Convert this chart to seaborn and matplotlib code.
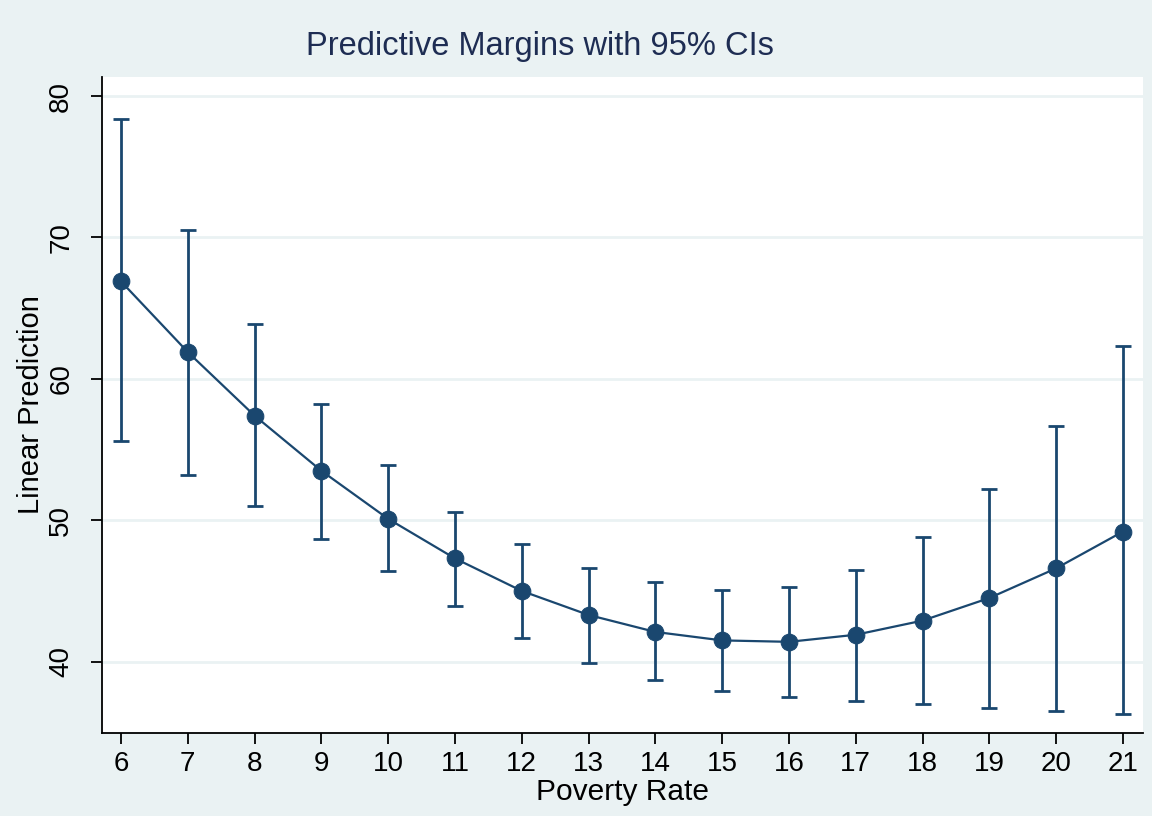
import numpy as np
import pandas as pd
import matplotlib
matplotlib.use("Agg")
import matplotlib.pyplot as plt
import seaborn as sns

# Values
poverty_rate = [6, 7, 8, 9, 10, 11, 12, 13, 14, 15, 16, 17, 18, 19, 20, 21]
margin = [66.9, 61.9, 57.4, 53.5, 50.1, 47.3, 45.0, 43.3, 42.1, 41.5, 41.4, 41.9, 42.9, 44.5, 46.6, 49.2]
ci_upper = [78.4, 70.5, 63.9, 58.2, 53.9, 50.6, 48.3, 46.6, 45.6, 45.1, 45.3, 46.5, 48.8, 52.2, 56.7, 62.3]
ci_lower = [55.6, 53.2, 51.0, 48.7, 46.4, 43.9, 41.7, 39.9, 38.7, 37.9, 37.5, 37.2, 37.0, 36.7, 36.5, 36.3]

df = pd.DataFrame({"x": poverty_rate, "y": margin, "lo": ci_lower, "hi": ci_upper})

bg = "#EAF2F3"
navy = "#1A476F"

sns.set_style("white")
plt.rcParams["font.family"] = ["Liberation Sans", "DejaVu Sans"]
plt.rcParams["text.color"] = "black"
plt.rcParams["axes.labelcolor"] = "black"
plt.rcParams["xtick.color"] = "black"
plt.rcParams["ytick.color"] = "black"

fig = plt.figure(figsize=(11.52, 8.16), dpi=100, facecolor=bg)
ax = fig.add_axes([0.0885, 0.1017, 0.9037, 0.8039])
ax.set_facecolor("white")

# Horizontal grid
for v in [40, 50, 60, 70, 80]:
    ax.axhline(v, color=bg, lw=2, zorder=0)

# Confidence intervals
ax.errorbar(df["x"], df["y"],
            yerr=[df["y"] - df["lo"], df["hi"] - df["y"]],
            fmt="none", ecolor=navy, elinewidth=2, capsize=6, capthick=2, zorder=2)

# Line with markers
sns.lineplot(data=df, x="x", y="y", color=navy, lw=1.6, marker="o",
             markersize=12, markeredgecolor=navy, ax=ax, zorder=3)

ax.set_xlim(5.716, 21.3)
ax.set_ylim(34.95, 81.35)
ax.set_xticks(poverty_rate)
ax.set_yticks([40, 50, 60, 70, 80])
ax.tick_params(axis="both", direction="out", length=8, width=1.3, color="black",
               labelcolor="black", labelsize=20, bottom=True, left=True)
ax.tick_params(axis="y", pad=12)
ax.tick_params(axis="x", pad=5)
plt.setp(ax.get_yticklabels(), rotation=90, va="center")

for side in ["top", "right"]:
    ax.spines[side].set_visible(False)
for side in ["left", "bottom"]:
    ax.spines[side].set_color("black")
    ax.spines[side].set_linewidth(1.3)

ax.set_xlabel("Poverty Rate", fontsize=21.5, labelpad=1, color="black")
ax.set_ylabel("Linear Prediction", fontsize=21, labelpad=2, color="black")
fig.text(540 / 1152, 1 - 55 / 816, "Predictive Margins with 95% CIs",
         fontsize=23.5, color="#1E2D53", ha="center", va="baseline")

fig.savefig("out.png", dpi=100, facecolor=bg)
plt.close()
